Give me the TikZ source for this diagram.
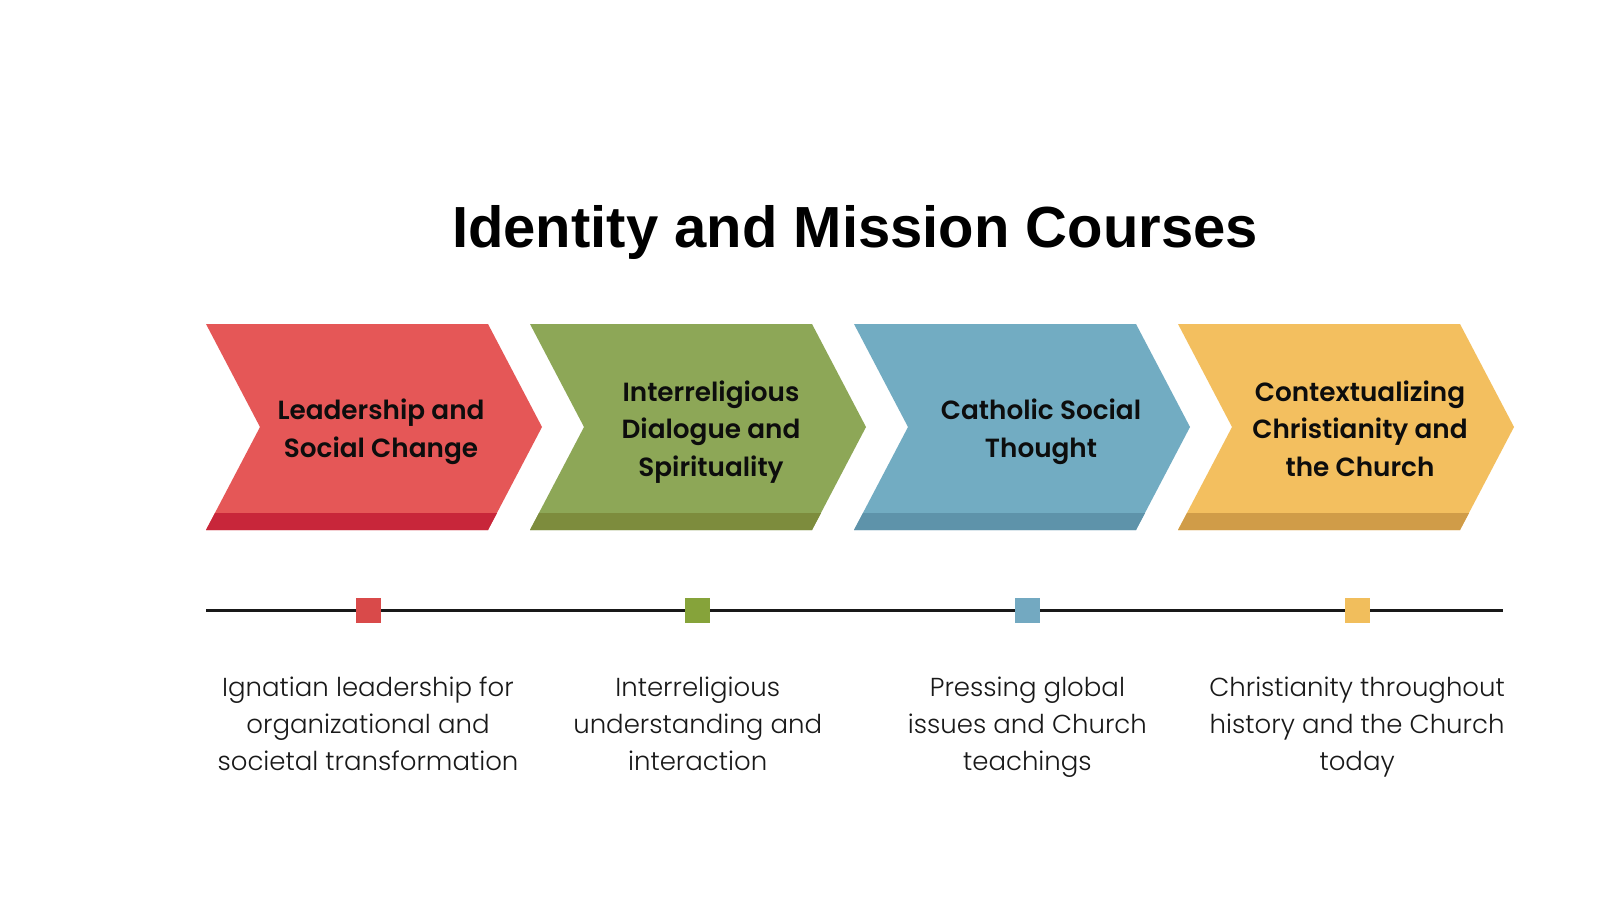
\documentclass[tikz,border=0pt]{standalone}
\usepackage{fontspec}
\setmainfont{Poppins}
\newfontfamily\titlefont{Liberation Sans}
\newfontfamily\labelfont{Poppins SemiBold}
\newfontfamily\descfont{Poppins Light}
\definecolor{redFill}{HTML}{E55757}
\definecolor{redEdge}{HTML}{C8263A}
\definecolor{redMark}{HTML}{D94A4A}
\definecolor{greenFill}{HTML}{8DA757}
\definecolor{greenEdge}{HTML}{7D8C3D}
\definecolor{greenMark}{HTML}{86A33A}
\definecolor{blueFill}{HTML}{72ACC2}
\definecolor{blueEdge}{HTML}{5E93AA}
\definecolor{blueMark}{HTML}{73A9C1}
\definecolor{yellowFill}{HTML}{F3BF5F}
\definecolor{yellowEdge}{HTML}{D09C48}
\definecolor{yellowMark}{HTML}{F1BE5C}
\tikzset{
    lbl/.style={font=\labelfont\fontsize{26.3}{37.5}\selectfont, align=center, text=black!95},
    desc/.style={font=\descfont\fontsize{26}{37}\selectfont, align=center, text=black!90},
    marker/.style={rectangle, minimum size=25pt, inner sep=0pt}
}
\begin{document}
\begin{tikzpicture}[x=1pt,y=-1pt]
    \useasboundingbox[fill=white] (0,0) rectangle (1600,900);
    \node[font=\titlefont\bfseries\fontsize{58}{60}\selectfont, anchor=base] (title) at (855,247) {Identity and Mission Courses};
    \coordinate (line-start) at (206,610);
    \coordinate (line-end) at (1503,610);
    \draw[line width=3pt, black!90] (line-start) -- (line-end);
    \foreach \i/\c/\x/\t/\d in {
        0/red/381/{Leadership and\\Social Change}/{Ignatian leadership for\\organizational and\\societal transformation},
        1/green/711/{Interreligious\\Dialogue and\\Spirituality}/{Interreligious\\understanding and\\interaction},
        2/blue/1041/{Catholic Social\\Thought}/{Pressing global\\issues and Church\\teachings},
        3/yellow/1360/{Contextualizing\\Christianity and\\the Church}/{Christianity throughout\\history and the Church\\today}} {
        \pgfmathsetmacro{\L}{206+324*\i}
        \pgfmathsetmacro{\M}{368+329.7*\i}
        \fill[\c Fill] (\L,324) -- ++(282,0) -- ++(54,103) -- ++(-54,103) -- ++(-282,0) -- ++(54,-103) -- cycle;
        \fill[\c Edge] (\L,530) -- ++(9,-17) -- ++(282,0) -- ++(-9,17) -- cycle;
        \node[lbl] (lbl-\i) at (\x,431) {\strut\t\strut};
        \node[marker, fill=\c Mark] (mark-\i) at (\M,610) {};
        \node[desc] (desc-\i) at (\M,726.5) {\strut\d\strut};
    }
\end{tikzpicture}
\end{document}
